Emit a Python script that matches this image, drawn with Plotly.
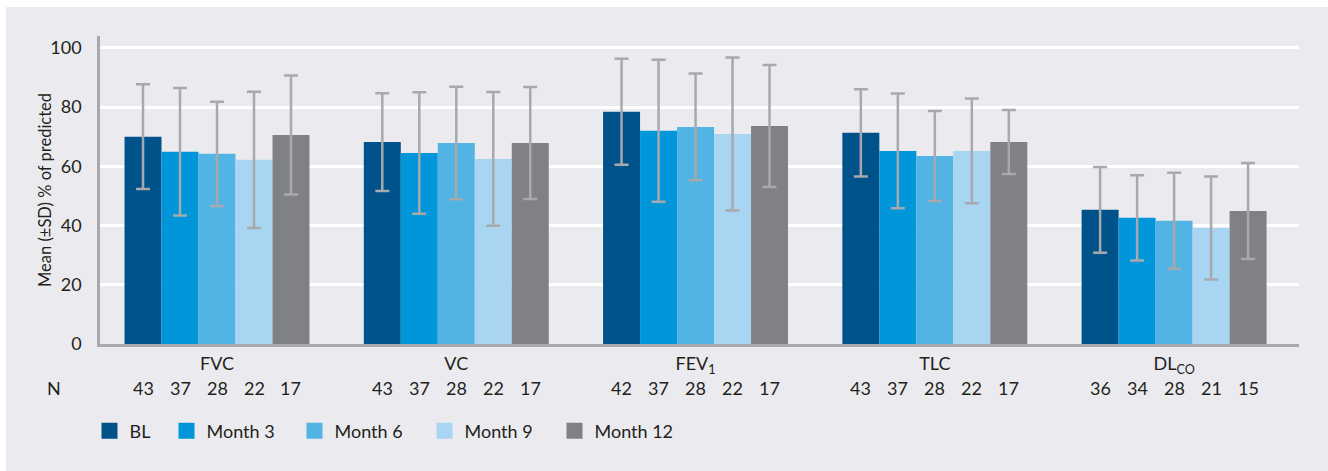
import plotly.graph_objects as go

categories = ["FVC", "VC", "FEV<sub>1</sub>", "TLC", "DL<sub>CO</sub>"]
series_names = ["BL", "Month 3", "Month 6", "Month 9", "Month 12"]
colors = ["#00538a", "#0096d9", "#52b3e5", "#a8d5f1", "#808184"]

bl_mean = [70.0, 68.2, 78.4, 71.3, 45.3]
bl_sd = [17.7, 16.5, 17.9, 14.7, 14.5]
m3_mean = [64.9, 64.5, 72.0, 65.2, 42.6]
m3_sd = [21.5, 20.5, 24.0, 19.4, 14.4]
m6_mean = [64.2, 67.9, 73.3, 63.5, 41.6]
m6_sd = [17.6, 19.0, 18.0, 15.2, 16.2]
m9_mean = [62.2, 62.5, 70.9, 65.2, 39.2]
m9_sd = [23.0, 22.6, 25.8, 17.7, 17.4]
m12_mean = [70.6, 67.9, 73.6, 68.2, 44.9]
m12_sd = [20.1, 18.9, 20.6, 10.8, 16.2]

bl_n = [43, 43, 42, 43, 36]
m3_n = [37, 37, 37, 37, 34]
m6_n = [28, 28, 28, 28, 28]
m9_n = [22, 22, 22, 22, 21]
m12_n = [17, 17, 17, 17, 15]

means = [bl_mean, m3_mean, m6_mean, m9_mean, m12_mean]
sds = [bl_sd, m3_sd, m6_sd, m9_sd, m12_sd]
ns = [bl_n, m3_n, m6_n, m9_n, m12_n]

y_title = "Mean (±SD) % of predicted"

FONT = "Lato"
TXT = "#231f20"
ERR = "#a7a9ac"
BG = "#ebebef"
BARGAP = 0.227

# legend entry left edges (pixels) and plot geometry
legend_px = [89.5, 166.5, 294.5, 424.5, 554.5]
PLOT_L, PLOT_W = 100, 1199

xpos = list(range(len(categories)))

fig = go.Figure()
for k, (name, col, m, s) in enumerate(zip(series_names, colors, means, sds)):
    lg = "legend" if k == 0 else f"legend{k + 1}"
    fig.add_trace(go.Bar(
        x=xpos, y=m, name=name, marker=dict(color=col, line=dict(width=0)),
        error_y=dict(type="data", array=s, visible=True, color=ERR,
                     thickness=2.5, width=7),
        showlegend=False, legendgroup=name,
    ))
    fig.add_trace(go.Scatter(
        x=[None], y=[None], mode="markers", name=name, legendgroup=name,
        marker=dict(symbol="square", size=19, color=col, line=dict(width=0)),
        legend=lg, showlegend=True,
    ))

# N annotations below each bar
nser = len(series_names)
bw = (1 - BARGAP) / nser
ann = []
for j, nvals in enumerate(ns):
    for i, v in enumerate(nvals):
        ann.append(dict(x=i - (1 - BARGAP) / 2 + (j + 0.5) * bw, y=-0.143,
                        xref="x", yref="paper", text=str(v), showarrow=False,
                        xanchor="center", yanchor="middle",
                        font=dict(family=FONT, size=18, color=TXT)))
ann.append(dict(x=-0.0384, y=-0.143, xref="paper", yref="paper", text="N",
                showarrow=False, xanchor="center", yanchor="middle",
                font=dict(family=FONT, size=18, color=TXT)))
ann.append(dict(x=(45 - PLOT_L) / PLOT_W, y=0.5, xref="paper", yref="paper",
                text=y_title, textangle=-90, showarrow=False,
                xanchor="center", yanchor="middle",
                font=dict(family=FONT, size=16.5, color=TXT)))

legends = {}
for k, px in enumerate(legend_px):
    key = "legend" if k == 0 else f"legend{k + 1}"
    legends[key] = dict(orientation="h", x=(px - PLOT_L) / PLOT_W, y=-0.2825,
                        xanchor="left", yanchor="middle", itemwidth=30,
                        font=dict(family=FONT, size=18, color=TXT),
                        bgcolor="rgba(0,0,0,0)")

fig.update_layout(
    width=1328, height=471,
    margin=dict(l=100, r=29, t=36, b=127),
    paper_bgcolor="white", plot_bgcolor="rgba(0,0,0,0)",
    barmode="group", bargap=BARGAP, bargroupgap=0,
    font=dict(family=FONT, size=18, color=TXT),
    showlegend=True,
    annotations=ann,
    shapes=[dict(type="rect", xref="paper", yref="paper",
                 x0=-0.0784, x1=1.03, y0=-0.45, y1=1.0942,
                 fillcolor=BG, line=dict(width=0), layer="below")],
    **legends,
)
fig.update_xaxes(range=[-0.489, 4.522], tickvals=xpos, ticktext=categories,
                 showline=True, linecolor=ERR, linewidth=2.5, showgrid=False,
                 zeroline=False, ticks="", ticklabelstandoff=2,
                 tickfont=dict(family=FONT, size=18, color=TXT))
fig.update_yaxes(range=[0, 104], tickvals=[0, 20, 40, 60, 80, 100],
                 showline=True, linecolor=ERR, linewidth=2.5,
                 showgrid=True, gridcolor="white", gridwidth=2.5,
                 zeroline=False, ticks="", ticklabelstandoff=12,
                 tickfont=dict(family=FONT, size=18, color=TXT))

fig.write_html("out.html")
